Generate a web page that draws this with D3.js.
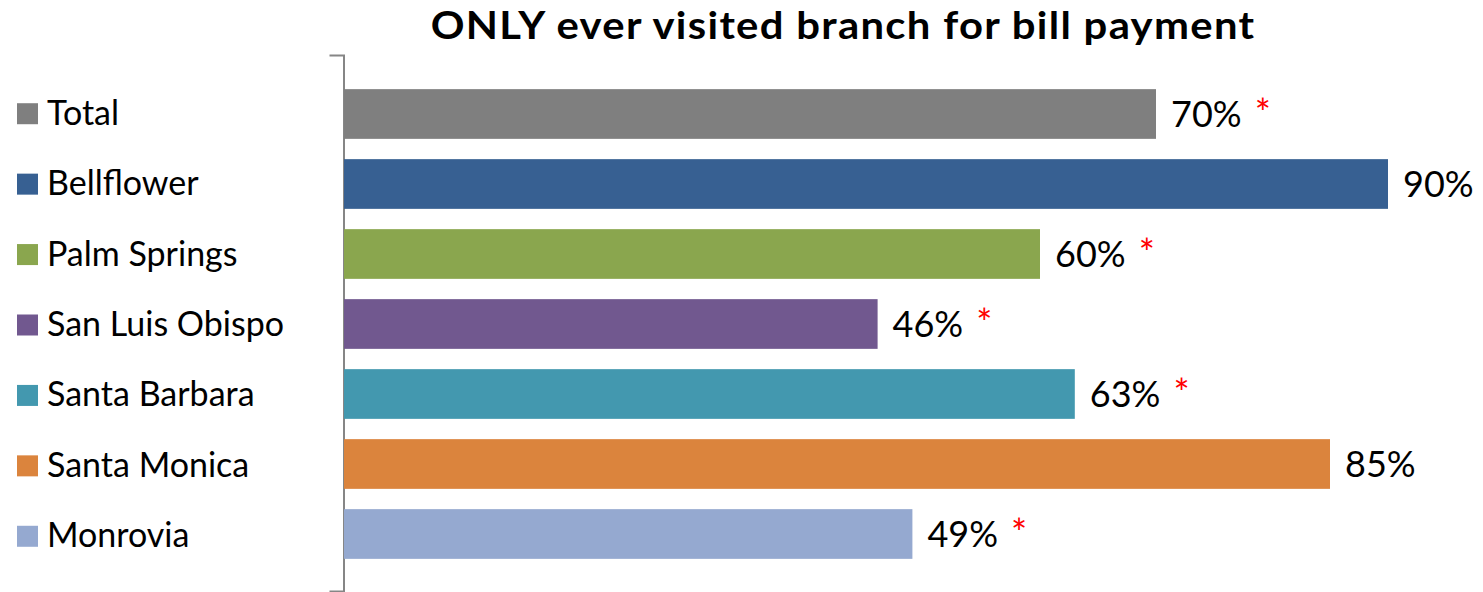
<!DOCTYPE html>
<html>
<head>
<meta charset="utf-8">
<script src="https://cdn.jsdelivr.net/npm/d3@7"></script>
<style>
  html, body { margin: 0; padding: 0; background: #fff; }
  svg { display: block; }
</style>
</head>
<body>
<svg id="chart" width="1483" height="592"></svg>
<script>
// Share of customers who only ever visited a branch for bill payment
const categories = ["Total", "Bellflower", "Palm Springs", "San Luis Obispo", "Santa Barbara", "Santa Monica", "Monrovia"];
const values = [0.70, 0.90, 0.60, 0.46, 0.63, 0.85, 0.49];
const flagged = [true, false, true, true, true, false, true];   // red asterisk marker
const colors = ["#7f7f7f", "#376092", "#8aa64e", "#71588f", "#4398af", "#db843d", "#95a9d0"];
const titleText = "ONLY ever visited branch for bill payment";

const FONT = "Lato, 'Open Sans', sans-serif";
const svg = d3.select("#chart");

// Scales
const x = d3.scaleLinear().domain([0, 1]).range([344, 1504]);
const y = d3.scaleBand().domain(categories).range([79, 569])
  .paddingInner(0.29).paddingOuter(0.145);
const legendY = d3.scaleBand().domain(categories).range([78.5, 571.5]);
const color = d3.scaleOrdinal().domain(categories).range(colors);

// Title (slightly widened to fill the header)
svg.append("text")
  .attr("transform", "translate(843,38.5) scale(1.1,1)")
  .attr("text-anchor", "middle")
  .attr("font-family", FONT).attr("font-weight", 700).attr("font-size", 38)
  .attr("letter-spacing", 1.2)
  .attr("fill", "#000")
  .text(titleText);

// Category axis: a plain vertical line with outer ticks
const axisScale = d3.scaleLinear().domain([0, 1]).range([55, 591]);
const axisG = svg.append("g").attr("transform", "translate(343.5,0)")
  .call(d3.axisLeft(axisScale).tickValues([]).tickSizeOuter(14));
axisG.select(".domain").attr("stroke", "#868686").attr("stroke-width", 2);

const data = categories.map((c, i) => ({ cat: c, value: values[i], flag: flagged[i] }));

// Bars
svg.append("g").selectAll("rect").data(data).join("rect")
  .attr("x", x(0))
  .attr("y", d => y(d.cat))
  .attr("width", d => x(d.value) - x(0))
  .attr("height", y.bandwidth())
  .attr("fill", d => color(d.cat));

// Value labels with optional asterisk
const fmt = d3.format(".0%");
const labels = svg.append("g").selectAll("text").data(data).join("text")
  .attr("x", d => x(d.value) + 15)
  .attr("y", d => y(d.cat) + y.bandwidth() / 2 + 13)
  .attr("font-family", FONT).attr("font-size", 36)
  .attr("fill", "#000");
labels.append("tspan").text(d => fmt(d.value));
labels.filter(d => d.flag).append("tspan")
  .attr("dx", 13)
  .attr("font-size", 38)
  .attr("fill", "#ff0000")
  .text("*");

// Legend
const legend = svg.append("g").selectAll("g").data(categories).join("g")
  .attr("transform", c => `translate(0,${legendY(c) + legendY.bandwidth() / 2})`);
legend.append("rect")
  .attr("x", 17).attr("y", -10.5)
  .attr("width", 21).attr("height", 21)
  .attr("fill", c => color(c));
legend.append("text")
  .attr("x", 47).attr("y", 11)
  .attr("font-family", FONT).attr("font-size", 34)
  .attr("fill", "#000")
  .text(c => c);
</script>
</body>
</html>
